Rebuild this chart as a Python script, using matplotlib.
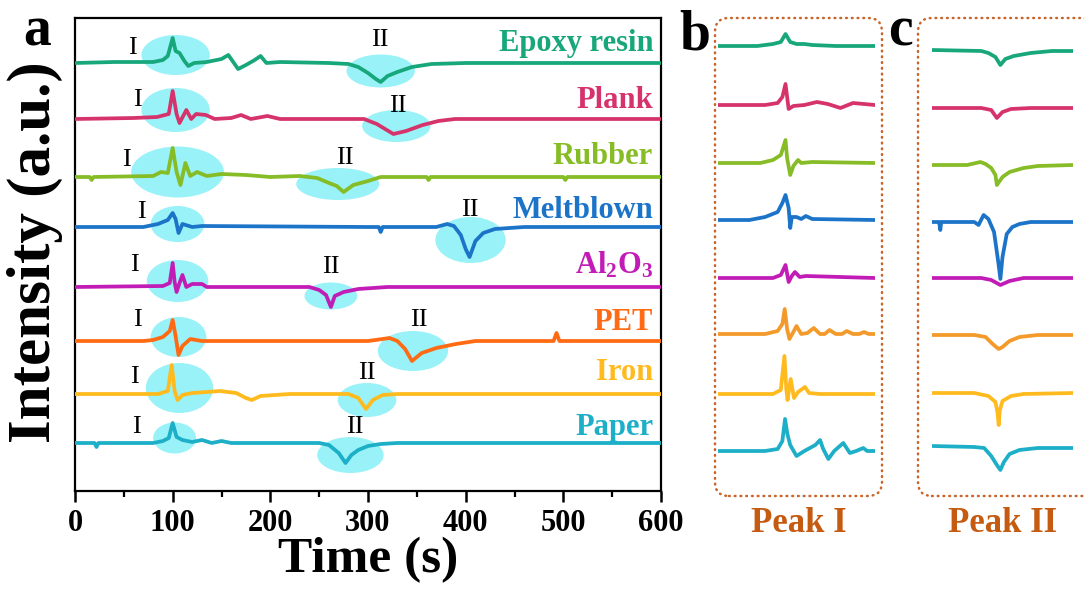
"""Gas-sensor response traces for eight materials, with zoomed peak panels."""

import matplotlib

matplotlib.use("Agg")
import matplotlib.pyplot as plt
from matplotlib.patches import Ellipse, FancyBboxPatch
from matplotlib.ticker import MultipleLocator
from matplotlib.transforms import IdentityTransform

plt.rcParams["font.family"] = ["Liberation Serif", "DejaVu Serif"]
plt.rcParams["font.weight"] = "bold"
plt.rcParams["mathtext.fontset"] = "custom"
plt.rcParams["mathtext.rm"] = "Liberation Serif:bold"
plt.rcParams["mathtext.default"] = "rm"

# ---- data -----------------------------------------------------------------
materials = ["Epoxy resin", "Plank", "Rubber", "Meltblown",
             "Al$_2$O$_3$", "PET", "Iron", "Paper"]
colors = ["#17A77A", "#D6336C", "#86BC25", "#1C74C9",
          "#C21CB6", "#FF6A13", "#FFBA1E", "#1DAFC7"]
zoom_colors = ["#17A77A", "#D6336C", "#86BC25", "#1C74C9",
               "#C21CB6", "#F39A2B", "#FFBA1E", "#1DAFC7"]

# panel a: time (s) and signal (arbitrary units, relative to baseline)
epoxy_t = [0, 40, 80, 90, 95, 100, 103, 107, 112, 116, 122, 135, 150, 157, 162, 167,
           175, 184, 190, 196, 210, 260, 280, 290, 300, 308, 313, 320, 330, 345, 365, 400, 600]
epoxy_v = [0, 1, 1, 3, 7, 25, 12, 10, 2, -3, 0, 1, 4, 8, 1, -6,
           -2, 3, 7, 0, 1, 0, -1, -4, -10, -16, -19, -13, -9, -4, -1, 0, 0]

plank_t = [0, 60, 84, 96, 100, 104, 107, 114, 119, 124, 134, 143, 160, 170, 180, 197,
           210, 296, 309, 326, 339, 356, 372, 389, 600]
plank_v = [0, 1, 2, 5, 28, 5, -4, 9, 0, 5, 4, 0, 1, 4, 0, 3,
           0, 0, -5, -15, -12, -6, -2, 0, 0]

rubber_t = [0, 15, 17, 19, 80, 88, 95, 100, 104, 108, 113, 118, 125, 135, 150, 175,
            200, 230, 248, 260, 268, 275, 285, 300, 313, 360, 362, 364, 500, 502, 504, 600]
rubber_v = [0, 0, -3, 0, 1, 5, 4, 29, 5, -8, 14, 1, 5, 1, 3, 2,
            0, 1, -1, -6, -9, -15, -8, -4, 0, 0, -3, 0, 0, -3, 0, 0]

melt_t = [0, 70, 85, 95, 100, 103, 106, 110, 120, 130, 300, 311, 313, 315, 330, 370,
          381, 388, 395, 400, 404, 410, 418, 430, 460, 600]
melt_v = [0, 0, 3, 7, 14, 8, -6, 3, 0, 1, 0, 0, -5, 0, 0, 0,
          3, 1, -8, -22, -30, -14, -6, -2, 0, 0]

al2o3_t = [0, 90, 97, 100, 102, 104, 107, 110, 114, 120, 130, 135, 240, 250, 257, 262,
           266, 275, 290, 320, 600]
al2o3_v = [0, 1, 4, 24, 5, -5, 4, 12, 0, 3, 3, 0, 0, -3, -8, -20,
           -9, -5, -2, 0, 0]

pet_t = [0, 70, 80, 90, 97, 100, 103, 106, 110, 118, 130, 300, 315, 322, 330, 338,
         345, 355, 370, 390, 410, 490, 493, 496, 600]
pet_v = [0, 0, 1, 4, 10, 21, 5, -14, -5, 2, 0, 0, 2, 3, 0, -8,
         -20, -12, -7, -3, 0, 0, 8, 0, 0]

iron_t = [0, 85, 95, 99, 102, 105, 110, 120, 135, 148, 165, 175, 181, 190, 220, 280,
          290, 298, 305, 315, 330, 600]
iron_v = [0, 0, 3, 29, 3, -6, -1, 1, 2, 3, 1, -4, -6, -2, 0, 0,
          -4, -15, -6, -1, 0, 0]

paper_t = [0, 20, 22, 24, 80, 90, 96, 100, 104, 110, 120, 130, 140, 150, 160, 250,
           260, 270, 277, 283, 290, 300, 313, 330, 600]
paper_v = [0, 0, -4, 0, 0, 2, 5, 20, 6, 3, 1, 3, 0, 2, 0, 0,
           -2, -10, -20, -12, -7, -3, -1, 0, 0]

# panel b (peak I, zoomed): relative position across the window, signal
p1_epoxy_x = [0, 25, 35, 40, 43, 46, 50, 55, 60, 75, 100]
p1_epoxy_v = [0, 0, 2, 4, 12, 4, 2, 2, 1, 0, 0]
p1_plank_x = [0, 30, 38, 41, 43, 45, 48, 55, 63, 70, 78, 86, 100]
p1_plank_v = [0, 0, 2, 8, 21, -4, -1, 0, 3, 1, -3, 2, 0]
p1_rubber_x = [0, 27, 35, 40, 43, 44, 46, 48, 51, 53, 60, 100]
p1_rubber_v = [0, 0, 3, 8, 23, 5, -12, -3, 3, 0, 1, 0]
p1_melt_x = [0, 20, 30, 38, 41, 43, 45, 46, 47, 50, 53, 56, 60, 100]
p1_melt_v = [0, 0, 3, 8, 17, 25, 12, -8, 3, 3, 1, 4, 1, 0]
p1_al2o3_x = [0, 35, 40, 43, 45, 47, 49, 52, 56, 100]
p1_al2o3_v = [0, 0, 3, 13, -4, 2, 6, 1, 2, 0]
p1_pet_x = [0, 30, 38, 41, 42.5, 44, 45.5, 48, 50, 53, 57, 61, 65, 68, 71, 75,
            79, 82, 86, 90, 93, 96, 100]
p1_pet_v = [0, 0, 3, 10, 25, 5, -5, 2, 8, 0, 1, 6, 0, 0, 4, 0,
            0, 3, 0, 0, 2, 0, 0]
p1_iron_x = [0, 35, 40, 42.3, 43.5, 44.3, 46.3, 48.4, 51, 55.4, 58, 65, 100]
p1_iron_v = [0, 0, 4, 38, 5, -6, 15, -4, 2, 7, 1, 0, 0]
p1_paper_x = [0, 30, 38, 41, 42.7, 44.2, 46, 50, 55, 62, 65, 67, 70.3, 74, 79.8, 84,
              88, 92.5, 95, 100]
p1_paper_v = [0, 0, 2, 10, 32, 17, 6, -5, 0, 6, 11, 2, -8, 0, 8, -2,
              0, 3, 0, 0]

# panel c (peak II, zoomed)
p2_epoxy_x = [0, 35, 40, 45, 48.5, 52, 58, 70, 85, 100]
p2_epoxy_v = [1, 0, -2, -6, -14, -8, -5, -2, 0, 0]
p2_plank_x = [0, 35, 42, 46, 50, 56, 70, 100]
p2_plank_v = [0, 0, -2, -10, -4, -1, 0, 0]
p2_rubber_x = [0, 25, 34.3, 38, 42, 45, 46, 50, 55, 65, 75, 100]
p2_rubber_v = [0, 0, 3, 1, -3, -10, -20, -12, -7, -3, -1, 0]
p2_melt_x = [0, 5, 5.9, 6.5, 8, 30, 33, 36.6, 40, 44, 47, 48.5, 50, 53, 57, 62, 70, 100]
p2_melt_v = [0, 0, -8, 0, 0, 0, -3, 7, 3, -10, -40, -57, -35, -12, -5, -2, 0, 0]
p2_al2o3_x = [0, 35, 42, 48.5, 55, 65, 100]
p2_al2o3_v = [0, 0, -2, -7, -3, 0, 0]
p2_pet_x = [0, 30, 38, 43, 47.3, 50, 55, 62, 75, 100]
p2_pet_v = [0, 0, -2, -9, -14, -12, -6, -2, 0, 0]
p2_iron_x = [0, 30, 40, 45, 46.5, 47.3, 48, 50, 56, 65, 100]
p2_iron_v = [0, 0, -3, -9, -20, -32, -18, -8, -3, -1, 0]
p2_paper_x = [0, 30, 37, 42, 46, 48.5, 51, 55, 62, 75, 100]
p2_paper_v = [2, 1, 0, -8, -17, -22, -14, -6, -2, 0, 0]

traces_a = [(epoxy_t, epoxy_v), (plank_t, plank_v), (rubber_t, rubber_v), (melt_t, melt_v),
            (al2o3_t, al2o3_v), (pet_t, pet_v), (iron_t, iron_v), (paper_t, paper_v)]
traces_b = [(p1_epoxy_x, p1_epoxy_v), (p1_plank_x, p1_plank_v), (p1_rubber_x, p1_rubber_v),
            (p1_melt_x, p1_melt_v), (p1_al2o3_x, p1_al2o3_v), (p1_pet_x, p1_pet_v),
            (p1_iron_x, p1_iron_v), (p1_paper_x, p1_paper_v)]
traces_c = [(p2_epoxy_x, p2_epoxy_v), (p2_plank_x, p2_plank_v), (p2_rubber_x, p2_rubber_v),
            (p2_melt_x, p2_melt_v), (p2_al2o3_x, p2_al2o3_v), (p2_pet_x, p2_pet_v),
            (p2_iron_x, p2_iron_v), (p2_paper_x, p2_paper_v)]

# ---- layout (stacking offsets, highlight ellipses, label anchors) ---------
offsets_a = [428, 372, 314, 264, 204, 150, 97, 48]
offsets_b = [450, 391, 333, 276, 218, 162, 102, 45]
offsets_c = [445, 388, 331, 274, 218, 161, 103, 48]

# (t centre, dy, width s, height) for peak I and peak II highlights
ellipse_1 = [(103, 8, 70, 40), (103, 9, 70, 44), (105, 5, 95, 51), (105, 3, 55, 36),
             (105, 6, 63, 42), (106, 4, 57, 40), (107, 6, 69, 50), (102, 5, 44, 31)]
ellipse_2 = [(313, -8, 70, 33), (329, -7, 70, 32), (269, -7, 85, 32), (405, -13, 72, 46),
             (262, -9, 54, 27), (346, -10, 72, 40), (299, -6, 60, 34), (282, -12, 68, 36)]
label_1 = [(59, 15), (64, 19), (53, 17), (68, 15), (61, 22), (64, 21), (61, 17), (63, 16)]
label_2 = [(312, 23), (331, 13), (276, 19), (404, 17), (262, 20), (352, 21), (299, 21), (287, 16)]
name_dy = [20, 19, 20, 17, 22, 19, 21, 16]

W, H = 1084, 590
fig = plt.figure(figsize=(W / 100, H / 100), dpi=100)


def frac(x0, y_top, w, h):
    return [x0 / W, 1 - (y_top + h) / H, w / W, h / H]


# ---- panel a --------------------------------------------------------------
ax = fig.add_axes(frac(75, 18, 586, 473))
for i, (t, v) in enumerate(traces_a):
    base = offsets_a[i]
    ax.plot(t, [base + y for y in v], color=colors[i], lw=2.7, zorder=3,
            solid_joinstyle="round")
    for (tc, dy, w, h) in (ellipse_1[i], ellipse_2[i]):
        ax.add_patch(Ellipse((tc, base + dy), w, h, facecolor="#98F2F7", lw=0, zorder=1))
    for txt, (tl, dy) in (("I", label_1[i]), ("II", label_2[i])):
        ax.text(tl, base + dy, txt, ha="center", va="center", fontsize=19,
                fontweight="normal", zorder=4)
    ax.text(592, base + name_dy[i], materials[i], ha="right", va="center",
            color=colors[i], fontsize=22, zorder=4)

ax.set_xlim(0, 600)
ax.set_ylim(0, 473)
ax.set_yticks([])
ax.xaxis.set_major_locator(MultipleLocator(100))
ax.xaxis.set_minor_locator(MultipleLocator(50))
ax.tick_params(axis="x", which="major", length=8, width=1.8, labelsize=22, pad=5)
ax.tick_params(axis="x", which="minor", length=4, width=1.6)
for s in ax.spines.values():
    s.set_linewidth(1.6)

fig.text(35 / W, 1 - 252 / H, "Intensity (a.u.)", rotation=90, fontsize=44,
         ha="center", va="center")
fig.text(368 / W, 1 - 560 / H, "Time (s)", fontsize=37, ha="center", va="center")

# ---- panels b and c ---------------------------------------------------------
for x0, width, traces, offsets in ((718, 157, traces_b, offsets_b),
                                   (932, 141, traces_c, offsets_c)):
    axz = fig.add_axes(frac(x0, 18, width, 478))
    for i, (x, v) in enumerate(traces):
        axz.plot(x, [offsets[i] + y for y in v], color=zoom_colors[i], lw=2.7,
                 solid_joinstyle="round")
    axz.set_xlim(0, 100)
    axz.set_ylim(0, 478)
    axz.axis("off")

box_color = "#C9652B"
for bx, bw in ((715, 167), (918, 180)):
    fig.add_artist(FancyBboxPatch((bx, H - 496), bw, 478, transform=IdentityTransform(),
                                  boxstyle="round,pad=0,rounding_size=14",
                                  facecolor="none", edgecolor=box_color, lw=1.8,
                                  linestyle=(0, (0.3, 2.0)), capstyle="round"))

fig.text(799 / W, 1 - 523 / H, "Peak I", color="#C55A11", fontsize=25,
         ha="center", va="center")
fig.text(1003 / W, 1 - 523 / H, "Peak II", color="#C55A11", fontsize=25,
         ha="center", va="center")

for letter, (lx, ly) in (("a", (37, 45)), ("b", (695, 49)), ("c", (900, 46))):
    fig.text(lx / W, 1 - ly / H, letter, fontsize=40, ha="center", va="baseline")

fig.savefig("out.png", dpi=100)
plt.close(fig)
